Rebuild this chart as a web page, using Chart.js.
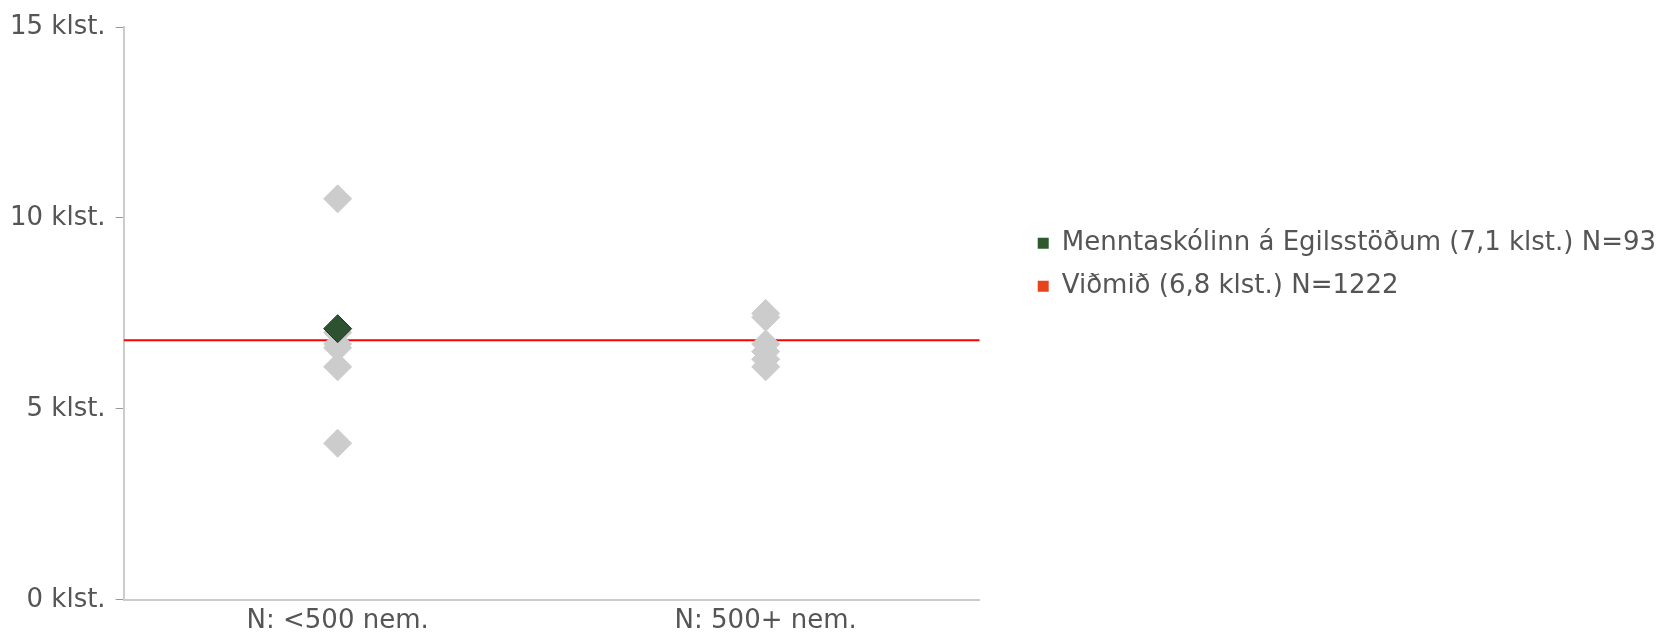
<!DOCTYPE html>
<html>
<head>
<meta charset="utf-8">
<script src="https://cdn.jsdelivr.net/npm/chart.js@4.4.0/dist/chart.umd.min.js"></script>
<style>
html, body { margin: 0; padding: 0; background: #fff; }
#wrap { width: 1666px; height: 636px; position: relative; }
</style>
</head>
<body>
<div id="wrap"><canvas id="chart"></canvas></div>
<script>
// data
const categories = ['N: <500 nem.', 'N: 500+ nem.'];
const smallSchools = [10.5, 7.0, 6.7, 6.6, 6.1, 4.1];
const largeSchools = [7.5, 7.4, 6.7, 6.5, 6.3, 6.1];
const schoolName = 'Menntaskólinn á Egilsstöðum (7,1 klst.) N=93';
const schoolValue = 7.1;
const schoolCategory = 0;
const benchmarkName = 'Viðmið (6,8 klst.) N=1222';
const benchmark = 6.8;
const yTicks = [0, 5, 10, 15];

const toPoints = (vals, cat) => vals.map(v => ({ x: cat + 0.5, y: v }));

Chart.defaults.font.family = 'DejaVu Sans';
Chart.defaults.font.size = 26;
Chart.defaults.color = '#555';

var myChart = new Chart(
    document.getElementById('chart'),
    config = {
        type: 'scatter',
        data: {
            datasets: [
                {
                    label: schoolName,
                    data: toPoints([schoolValue], schoolCategory),
                    backgroundColor: '#2d5230',
                    borderColor: '#1f3a20',
                    borderWidth: 1,
                    pointStyle: 'rectRot',
                    pointRadius: 14,
                    pointHoverRadius: 14,
                    order: 0
                },
                {
                    label: benchmarkName,
                    type: 'line',
                    data: [{ x: 0, y: benchmark }, { x: 2, y: benchmark }],
                    borderColor: '#ff0000',
                    backgroundColor: '#ff0000',
                    borderWidth: 2,
                    pointRadius: 0,
                    order: 3
                },
                {
                    label: categories[0],
                    data: toPoints(smallSchools, 0),
                    backgroundColor: '#cccccc',
                    borderColor: '#cccccc',
                    borderWidth: 1,
                    pointStyle: 'rectRot',
                    pointRadius: 14,
                    pointHoverRadius: 14,
                    order: 1
                },
                {
                    label: categories[1],
                    data: toPoints(largeSchools, 1),
                    backgroundColor: '#cccccc',
                    borderColor: '#cccccc',
                    borderWidth: 1,
                    pointStyle: 'rectRot',
                    pointRadius: 14,
                    pointHoverRadius: 14,
                    order: 2
                },
            ]
        },
        options: {
            responsive: true,
            maintainAspectRatio: false,
            animation: false,
            layout: {
                padding: { top: 27, left: 0, right: 0, bottom: -7 }
            },
            scales: {
                x: {
                    type: 'linear',
                    min: 0,
                    max: 2,
                    afterBuildTicks: axis => {
                        axis.ticks = categories.map((c, i) => ({ value: i + 0.5 }));
                    },
                    ticks: {
                        padding: 6,
                        callback: (v, i) => categories[i]
                    },
                    grid: { display: false, drawTicks: false },
                    border: { color: '#cccccc', width: 2 }
                },
                y: {
                    min: 0,
                    max: 15,
                    afterBuildTicks: axis => {
                        axis.ticks = yTicks.map(v => ({ value: v }));
                    },
                    ticks: {
                        padding: 10,
                        callback: v => v + ' klst.'
                    },
                    grid: {
                        drawOnChartArea: false,
                        tickLength: 8,
                        color: '#999999'
                    },
                    border: { color: '#cccccc', width: 2 }
                },
                // empty spacer between the plot and the legend
                gap: {
                    position: 'right',
                    display: true,
                    grid: { display: false },
                    border: { display: false },
                    ticks: { display: false },
                    afterFit: axis => { axis.width = 41; }
                }
            },
            plugins: {
                tooltip: { enabled: false },
                legend: {
                    position: 'right',
                    align: 'start',
                    maxWidth: 800,
                    title: { display: true, text: '', padding: { top: 155, bottom: 0 } },
                    labels: {
                        boxWidth: 11,
                        boxHeight: 11,
                        padding: 17,
                        generateLabels: chart => [
                            { text: schoolName, fillStyle: '#2d5a2d', strokeStyle: '#2d5a2d', lineWidth: 0, datasetIndex: 0, fontColor: '#555' },
                            { text: benchmarkName, fillStyle: '#e8441c', strokeStyle: '#e8441c', lineWidth: 0, datasetIndex: 1, fontColor: '#555' }
                        ]
                    },
                },
            },
        },
    });
</script>
</body>
</html>
